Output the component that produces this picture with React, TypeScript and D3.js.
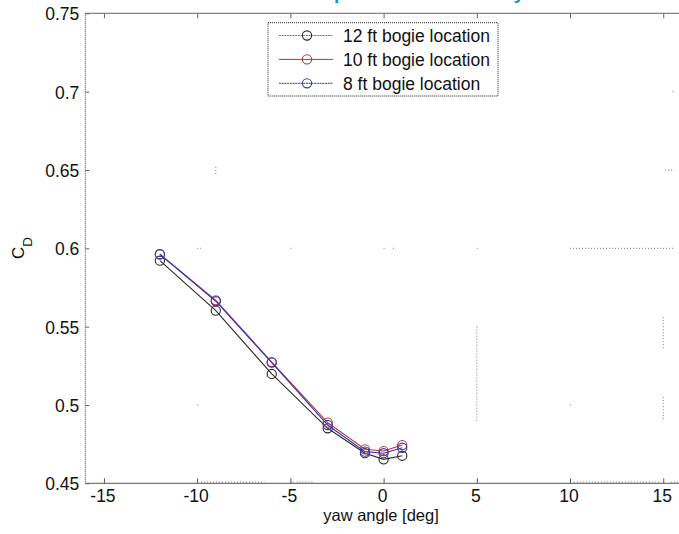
import React, { useRef, useEffect } from 'react';
import * as d3 from 'd3';

// yaw angle [deg]
const yawAngles = [-12, -9, -6, -3, -1, 0, 1];

// C_D per bogie location
const cd12ft = [0.5921, 0.5602, 0.5198, 0.4851, 0.4692, 0.4653, 0.4676];
const cd10ft = [0.5962, 0.5668, 0.5274, 0.4887, 0.4717, 0.4706, 0.4744];
const cd8ft = [0.5962, 0.5662, 0.5270, 0.4872, 0.4702, 0.4692, 0.4727];

const seriesNames = ['12 ft bogie location', '10 ft bogie location', '8 ft bogie location'];
const seriesColors = ['#2a2a2a', '#b83232', '#3434b8'];

const xTicks = [-15, -10, -5, 0, 5, 10, 15];
const yTicks = [0.45, 0.5, 0.55, 0.6, 0.65, 0.7, 0.75];

// leftover bits of the dotted grid, in data units [x1, y1, x2, y2]
const gridBits = [
  [-9.8, 0.4508, -6.4, 0.4508], [-5, 0.4508, -3.8, 0.4508],
  [10.2, 0.4508, 14.9, 0.4508], [15.4, 0.4508, 16, 0.4508],
  [5, 0.55, 5, 0.49], [15, 0.556, 15, 0.535], [15, 0.505, 15, 0.49],
  [10, 0.6, 15.6, 0.6], [15.1, 0.65, 15.6, 0.65],
  [-10, 0.6, -9.8, 0.6], [-5, 0.6, -4.9, 0.6], [0, 0.6, 0.1, 0.6], [0.5, 0.6, 0.6, 0.6],
  [-10, 0.5, -9.9, 0.5], [10, 0.5, 10.1, 0.5], [5, 0.6, 5.1, 0.6],
  [-9, 0.652, -9, 0.647], [15.5, 0.7, 15.6, 0.7],
];

const titleText = 'CD comparison at different yaw';

export default function App() {
  const ref = useRef<SVGSVGElement>(null);

  useEffect(() => {
    if (!ref.current) return;
    const svg = d3.select(ref.current);
    svg.selectAll('*').remove();

    const font = '"Liberation Sans", Arial, sans-serif';
    const left = 85.3, right = 681.9, top = 13.3, bottom = 483.3;

    const xScale = d3.scaleLinear().domain([-16, 16]).range([left, right]);
    const yScale = d3.scaleLinear().domain([0.45, 0.75]).range([bottom, top]);

    // title, mostly above the visible area
    const title = svg.append('text')
      .attr('x', 0).attr('y', -1)
      .attr('font-family', font).attr('font-weight', 'bold')
      .attr('font-size', 16).attr('fill', '#1a8fc2')
      .text(titleText);
    const tNode = title.node() as SVGTextElement;
    const pIdx = titleText.indexOf('p'), yIdx = titleText.lastIndexOf('y');
    const d0 = tNode.getStartPositionOfChar(yIdx).x - tNode.getStartPositionOfChar(pIdx).x;
    title.attr('font-size', 16 * (180 / d0));
    const pStart = tNode.getStartPositionOfChar(pIdx).x;
    title.attr('x', 337 - 3 - pStart);

    // dotted grid remnants
    svg.append('g').selectAll('line').data(gridBits).enter().append('line')
      .attr('x1', d => xScale(d[0])).attr('y1', d => yScale(d[1]))
      .attr('x2', d => xScale(d[2])).attr('y2', d => yScale(d[3]))
      .attr('stroke', '#777').attr('stroke-width', 1).attr('stroke-dasharray', '1,2');

    // axes frame
    svg.append('line').attr('x1', left).attr('x2', right).attr('y1', bottom).attr('y2', bottom)
      .attr('stroke', '#555').attr('stroke-width', 1);
    svg.append('line').attr('x1', left).attr('x2', right).attr('y1', top).attr('y2', top)
      .attr('stroke', '#666').attr('stroke-width', 1);
    svg.append('line').attr('x1', left).attr('x2', left).attr('y1', top).attr('y2', bottom)
      .attr('stroke', '#444').attr('stroke-width', 1).attr('stroke-dasharray', '1,1');

    // ticks
    const gx = svg.append('g').attr('transform', `translate(0,${bottom})`)
      .call(d3.axisBottom(xScale).tickValues(xTicks).tickSize(-5).tickPadding(6)
        .tickFormat(d => String(d)));
    gx.select('.domain').remove();
    gx.selectAll('line').attr('stroke', '#555');
    gx.selectAll('text').attr('font-family', font).attr('font-size', 17.5).attr('fill', '#111')
      .attr('dy', '0.71em').attr('dx', -1.5);

    const gxt = svg.append('g').attr('transform', `translate(0,${top})`)
      .call(d3.axisTop(xScale).tickValues(xTicks).tickSize(-5).tickFormat(() => ''));
    gxt.select('.domain').remove();
    gxt.selectAll('line').attr('stroke', '#666');

    const gy = svg.append('g').attr('transform', `translate(${left},0)`)
      .call(d3.axisLeft(yScale).tickValues(yTicks).tickSize(-4)
        .tickFormat(d => String(+d)));
    gy.select('.domain').remove();
    gy.selectAll('line').attr('stroke', '#666');
    gy.selectAll('text').attr('font-family', font).attr('font-size', 17.5).attr('fill', '#111')
      .attr('x', -6).attr('dy', '0.38em');

    // axis labels
    svg.append('text')
      .attr('x', 381).attr('y', 521)
      .attr('text-anchor', 'middle')
      .attr('font-family', font).attr('font-size', 16.5).attr('fill', '#111')
      .text('yaw angle [deg]');

    const yl = svg.append('text')
      .attr('transform', 'translate(24,259) rotate(-90)')
      .attr('font-family', font).attr('font-size', 17).attr('fill', '#111');
    yl.append('tspan').text('C');
    yl.append('tspan').attr('dy', 8).attr('font-size', 13.5).text('D');

    // series
    const allSeries = [cd12ft, cd10ft, cd8ft];
    const line = d3.line<number>()
      .x((_, i) => xScale(yawAngles[i]))
      .y(d => yScale(d));

    allSeries.forEach((vals, si) => {
      const g = svg.append('g');
      g.append('path').datum(vals)
        .attr('d', line)
        .attr('fill', 'none')
        .attr('stroke', seriesColors[si])
        .attr('stroke-width', 1.1);
      g.selectAll('circle').data(vals).enter().append('circle')
        .attr('cx', (_, i) => xScale(yawAngles[i]))
        .attr('cy', d => yScale(d))
        .attr('r', 4.6)
        .attr('fill', 'none')
        .attr('stroke', seriesColors[si])
        .attr('stroke-width', 1.1);
    });

    // legend
    const lg = svg.append('g');
    lg.append('rect')
      .attr('x', 268).attr('y', 22.7).attr('width', 230).attr('height', 73.3)
      .attr('fill', '#fff').attr('stroke', '#222').attr('stroke-width', 1)
      .attr('stroke-dasharray', '1,1');
    const rowY = d3.scalePoint<string>().domain(seriesNames).range([35.5, 83.3]);
    seriesNames.forEach((name, si) => {
      const yy = rowY(name) as number;
      lg.append('line').attr('x1', 279).attr('x2', 333).attr('y1', yy).attr('y2', yy)
        .attr('stroke', si === 0 ? '#777' : seriesColors[si]).attr('stroke-width', 1)
        .attr('stroke-dasharray', si === 1 ? null : '2,0.7');
      lg.append('circle').attr('cx', 307).attr('cy', yy).attr('r', 4.6)
        .attr('fill', 'none').attr('stroke', seriesColors[si]).attr('stroke-width', 1.1);
      lg.append('text').attr('x', 343).attr('y', yy).attr('dy', '0.36em')
        .attr('font-family', font).attr('font-size', 17.5).attr('fill', '#111')
        .text(name);
    });
  }, []);

  return (
    <svg
      ref={ref}
      width={679}
      height={534}
      style={{ position: 'absolute', left: 0, top: 0, background: '#fff' }}
    />
  );
}
